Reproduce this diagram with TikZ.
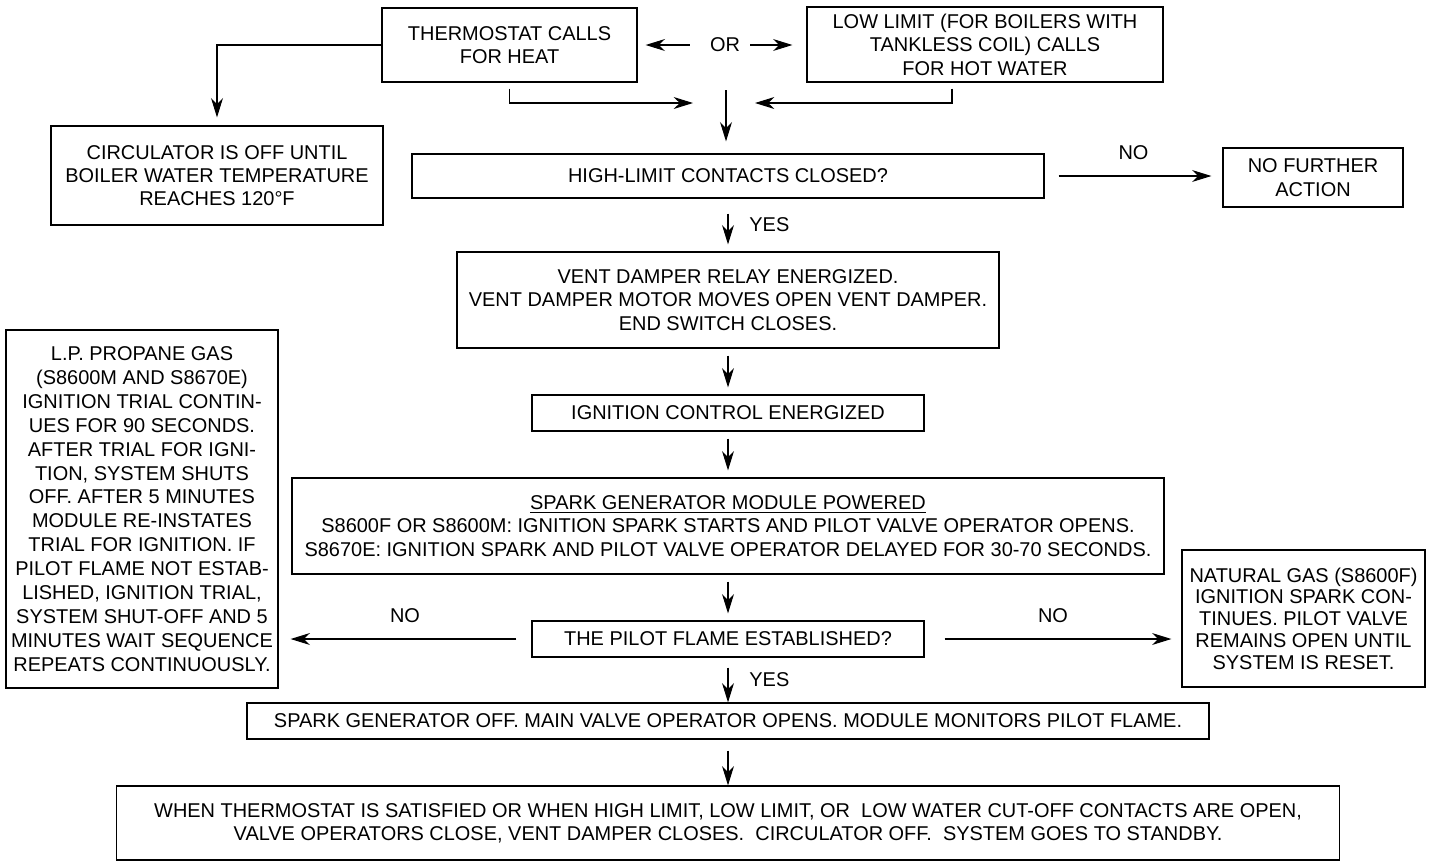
\documentclass[tikz,border=0pt]{standalone}
\usepackage{fontspec}
\setmainfont{Liberation Sans}
\usetikzlibrary{arrows.meta}
\begin{document}
\begin{tikzpicture}[
        font=\fontsize{11.35}{13.3}\selectfont,
        box/.style={draw, line width=0.7pt, align=center, inner sep=0pt},
        arr/.style={line width=0.6pt, -{Stealth[length=11pt, width=6.8pt, inset=3.5pt]}},
        gap/.style={shorten <=0.14cm, shorten >=0.14cm}
]
        \useasboundingbox (0, 0) rectangle (28.64, -17.22);

        \node[box, minimum width=5.10cm, minimum height=1.48cm] (therm) at (10.19, -0.90) {THERMOSTAT CALLS\\FOR HEAT};
        \node[inner sep=0pt] (or) at (14.50, -0.90) {OR};
        \node[box, minimum width=7.12cm, minimum height=1.50cm] (lowlim) at (19.70, -0.89) {LOW LIMIT (FOR BOILERS WITH\\TANKLESS COIL) CALLS\\FOR HOT WATER};
        \node[box, minimum width=6.64cm, minimum height=1.98cm] (circ) at (4.34, -3.51) {CIRCULATOR IS OFF UNTIL\\BOILER WATER TEMPERATURE\\REACHES 120°F};
        \node[box, minimum width=12.64cm, minimum height=0.88cm] (hilim) at (14.56, -3.52) {HIGH-LIMIT CONTACTS CLOSED?};
        \node[box, minimum width=3.60cm, minimum height=1.18cm] (nfa) at (26.26, -3.55) {NO FURTHER\\ACTION};
        \node[box, minimum width=10.84cm, minimum height=1.92cm] (vent) at (14.56, -6.00) {VENT DAMPER RELAY ENERGIZED.\\VENT DAMPER MOTOR MOVES OPEN VENT DAMPER.\\END SWITCH CLOSES.};
        \node[box, minimum width=7.84cm, minimum height=0.72cm] (ign) at (14.56, -8.26) {IGNITION CONTROL ENERGIZED};
        \node[box, minimum width=17.44cm, minimum height=1.92cm] (spark) at (14.56, -10.52) {\underline{SPARK GENERATOR MODULE POWERED}\\S8600F OR S8600M: IGNITION SPARK STARTS AND PILOT VALVE OPERATOR OPENS.\\S8670E: IGNITION SPARK AND PILOT VALVE OPERATOR DELAYED FOR 30-70 SECONDS.};
        \node[box, minimum width=5.44cm, minimum height=7.16cm, font=\fontsize{11.35}{13.6}\selectfont] (lpgas) at (2.84, -10.18) {L.P. PROPANE GAS\\(S8600M AND S8670E)\\IGNITION TRIAL CONTIN-\\UES FOR 90 SECONDS.\\AFTER TRIAL FOR IGNI-\\TION, SYSTEM SHUTS\\OFF. AFTER 5 MINUTES\\MODULE RE-INSTATES\\TRIAL FOR IGNITION. IF\\PILOT FLAME NOT ESTAB-\\LISHED, IGNITION TRIAL,\\SYSTEM SHUT-OFF AND 5\\MINUTES WAIT SEQUENCE\\REPEATS CONTINUOUSLY.};
        \node[box, minimum width=4.86cm, minimum height=2.74cm, font=\fontsize{11.35}{12.4}\selectfont] (natgas) at (26.07, -12.37) {NATURAL GAS (S8600F)\\IGNITION SPARK CON-\\TINUES. PILOT VALVE\\REMAINS OPEN UNTIL\\SYSTEM IS RESET.};
        \node[box, minimum width=7.84cm, minimum height=0.72cm] (pilot) at (14.56, -12.78) {THE PILOT FLAME ESTABLISHED?};
        \node[box, minimum width=19.24cm, minimum height=0.72cm] (off) at (14.56, -14.42) {SPARK GENERATOR OFF. MAIN VALVE OPERATOR OPENS. MODULE MONITORS PILOT FLAME.};
        \node[box, minimum width=24.46cm, minimum height=1.48cm] (standby) at (14.56, -16.46) {WHEN THERMOSTAT IS SATISFIED OR WHEN HIGH LIMIT, LOW LIMIT, OR~ LOW WATER CUT-OFF CONTACTS ARE OPEN,\\VALVE OPERATORS CLOSE, VENT DAMPER CLOSES.~ CIRCULATOR OFF.~ SYSTEM GOES TO STANDBY.};

        \coordinate (merge) at (14.52, -2.06);
        \draw[arr, shorten <=0.4cm, shorten >=0.16cm] (or.west) -- (or.west -| therm.east);
        \draw[arr, shorten <=0.2cm, shorten >=0.28cm] (or.east) -- (or.east -| lowlim.west);
        \draw[arr, shorten >=0.16cm] (therm.west) -| (circ.north);
        \draw[arr, shorten <=0.12cm, shorten >=0.66cm] (therm.south) |- (merge);
        \draw[arr, shorten <=0.12cm, shorten >=0.58cm] ([xshift=-0.66cm]lowlim.south) |- (merge);
        \draw[arr, shorten >=0.24cm] ([yshift=0.26cm]merge) -- (merge |- hilim.north);

        \draw[arr, shorten <=0.28cm, shorten >=0.22cm] (hilim.east) -- (hilim.east -| nfa.west) node[midway, above=0.19cm] (no1) {NO};
        \draw[arr, shorten <=0.30cm, shorten >=0.14cm] (hilim.south) -- (vent.north) node[midway, right=0.3cm] (yes1) {YES};

        \foreach \a/\b in {vent/ign, ign/spark, spark/pilot}
        {
                \draw[arr, gap] (\a) -- (\b);
        }

        \draw[arr, shorten <=0.3cm, shorten >=0.24cm] (pilot.west) -- (pilot.west -| lpgas.east) node[midway, above=0.19cm] (no2) {NO};
        \draw[arr, shorten <=0.4cm, shorten >=0.2cm] (pilot.east) -- (pilot.east -| natgas.west) node[midway, above=0.19cm] (no3) {NO};
        \draw[arr, shorten <=0.2cm] (pilot) -- (off) node[midway, right=0.3cm] (yes2) {YES};
        \draw[arr, shorten <=0.22cm] (off) -- (standby);

\end{tikzpicture}
\end{document}
